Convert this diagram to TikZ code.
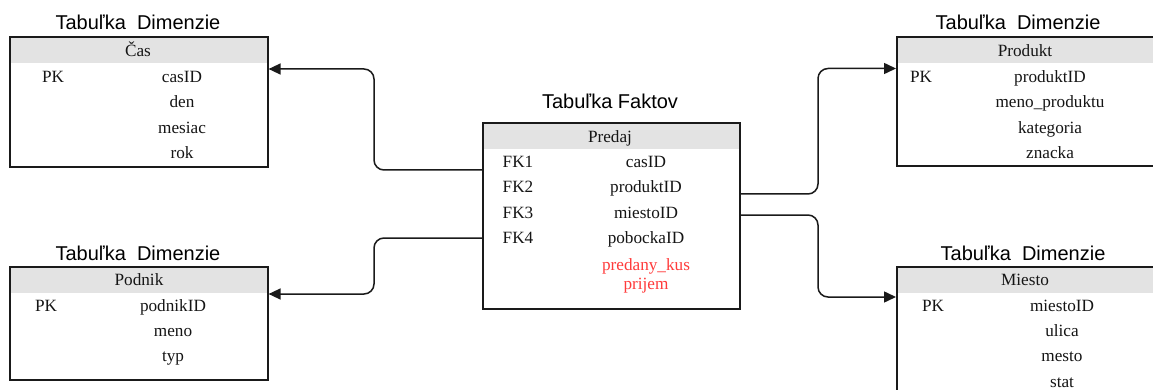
\documentclass[tikz,border=0pt]{standalone}
\usepackage{fontspec}
\setmainfont{Liberation Serif}
\setsansfont{Liberation Sans}
\usetikzlibrary{arrows.meta}
\definecolor{hdrgray}{HTML}{E3E3E3}
\definecolor{edgegray}{HTML}{1A1A1A}
\definecolor{inkgray}{HTML}{151515}
\definecolor{measurered}{HTML}{FF3B3B}
\tikzset{
  dimtable/.style={draw=edgegray, line width=1.6pt, anchor=north west,
    inner sep=0pt, minimum width=258pt,
    path picture={\fill[hdrgray] (path picture bounding box.north west)
      rectangle ([yshift=-26pt]path picture bounding box.north east);}},
  title/.style={font=\sffamily\fontsize{20}{22}\selectfont, text=black,
    anchor=base, inner sep=0pt},
  field/.style={font=\fontsize{17.2}{19.5}\selectfont, text=inkgray,
    anchor=base, inner sep=0pt},
  measure/.style={field, text=measurered, align=center},
  conn/.style={draw=edgegray, line width=1.5pt, rounded corners=10pt},
  arrowconn/.style={conn, -{Triangle[length=12pt,width=11pt]}}
}
\begin{document}
\begin{tikzpicture}[x=1pt, y=-1pt]
  \clip (0,0) rectangle (1153,390);
  \fill[white] (0,0) rectangle (1153,390);

  % --- table boxes ---
  \node[dimtable, minimum height=130pt] (cas) at (9,36) {};
  \node[dimtable, minimum height=113pt] (podnik) at (9,266) {};
  \node[dimtable, minimum width=257pt, minimum height=186pt] (predaj) at (482,122) {};
  \node[dimtable, minimum height=129pt] (produkt) at (896,36) {};
  \node[dimtable, minimum height=130pt] (miesto) at (896,266) {};

  % --- titles ---
  \node[title] (tcas) at (138,30) {Tabuľka\ \ Dimenzie};
  \node[title] (tpodnik) at (138,260) {Tabuľka\ \ Dimenzie};
  \node[title] (tpredaj) at (610,109) {Tabuľka Faktov};
  \node[title] (tprodukt) at (1018,30) {Tabuľka\ \ Dimenzie};
  \node[title] (tmiesto) at (1023,260) {Tabuľka\ \ Dimenzie};

  % --- Čas ---
  \node[field] (hcas) at (138,56.7) {Čas};
  \node[field] (cpk) at (53,82.7) {PK};
  \node[field] (c1) at (182,82.7) {casID};
  \node[field] (c2) at (182,108) {den};
  \node[field] (c3) at (182,133.3) {mesiac};
  \node[field] (c4) at (182,158.6) {rok};

  % --- Podnik ---
  \node[field] (hpodnik) at (139,285) {Podnik};
  \node[field] (ppk) at (46,311) {PK};
  \node[field] (p1) at (173,311) {podnikID};
  \node[field] (p2) at (173,336.3) {meno};
  \node[field] (p3) at (173,361.6) {typ};

  % --- Predaj ---
  \node[field] (hpredaj) at (610,143) {Predaj};
  \node[field] (fk1) at (518,167.7) {FK1};
  \node[field] (fk2) at (518,193) {FK2};
  \node[field] (fk3) at (518,218.3) {FK3};
  \node[field] (fk4) at (518,243.6) {FK4};
  \node[field] (f1) at (646,167.7) {casID};
  \node[field] (f2) at (646,193) {produktID};
  \node[field] (f3) at (646,218.3) {miestoID};
  \node[field] (f4) at (646,243.6) {pobockaID};
  \node[measure] (m1) at (646,270.5) {predany\_kus};
  \node[measure] (m2) at (646,289.5) {prijem};

  % --- Produkt ---
  \node[field] (hprodukt) at (1025,56.7) {Produkt};
  \node[field] (rpk) at (921,82.7) {PK};
  \node[field] (r1) at (1050,82.7) {produktID};
  \node[field] (r2) at (1050,108) {meno\_produktu};
  \node[field] (r3) at (1050,133.3) {kategoria};
  \node[field] (r4) at (1050,158.6) {znacka};

  % --- Miesto ---
  \node[field] (hmiesto) at (1025,285) {Miesto};
  \node[field] (mpk) at (933,311) {PK};
  \node[field] (s1) at (1062,311) {miestoID};
  \node[field] (s2) at (1062,336.3) {ulica};
  \node[field] (s3) at (1062,361.6) {mesto};
  \node[field] (s4) at (1062,387) {stat};

  % --- ports on the fact table and dimension tables ---
  \coordinate (outcas) at ([yshift=-48pt]predaj.north west);
  \coordinate (outpodnik) at ([yshift=-116pt]predaj.north west);
  \coordinate (outprodukt) at ([yshift=-72pt]predaj.north east);
  \coordinate (outmiesto) at ([yshift=-93pt]predaj.north east);
  \coordinate (incas) at ([yshift=-33pt]cas.north east);
  \coordinate (inpodnik) at ([yshift=-28pt]podnik.north east);
  \coordinate (inprodukt) at ([yshift=-32.5pt]produkt.north west);
  \coordinate (inmiesto) at ([yshift=-31pt]miesto.north west);

  % --- connectors ---
  \draw[arrowconn] (outcas) -| (374,120) |- (incas);
  \draw[arrowconn] (outpodnik) -| (374,260) |- (inpodnik);
  \draw[arrowconn] (outprodukt) -| (818,120) |- (inprodukt);
  \draw[arrowconn] (outmiesto) -| (818,260) |- (inmiesto);
\end{tikzpicture}
\end{document}
